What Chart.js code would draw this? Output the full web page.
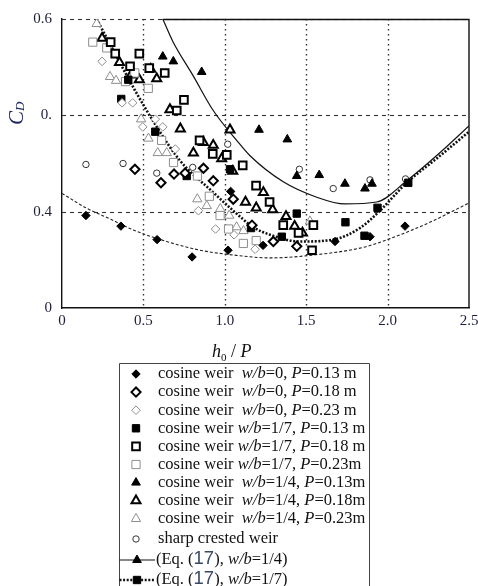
<!DOCTYPE html>
<html>
<head>
<meta charset="utf-8">
<title>Discharge coefficient of cosine weirs</title>
<script src="https://cdn.jsdelivr.net/npm/chart.js@4/dist/chart.umd.min.js"></script>
<style>
  html, body { margin: 0; padding: 0; background: #fff; }
  canvas { display: block; }
</style>
</head>
<body>
<canvas id="cdChart" width="478" height="586"></canvas>
<script>
// Measured C_D against h0/P, pairs of [h0/P, C_D]
const wb0P13 = [[0.147,0.396],[0.362,0.385],[0.584,0.371],[0.799,0.353],[1.020,0.360],[1.036,0.421],[1.235,0.365],[1.677,0.369],[1.892,0.374],[2.107,0.385]];
const wb0P18 = [[0.448,0.444],[0.608,0.430],[0.688,0.439],[0.756,0.440],[0.869,0.445],[0.929,0.432],[1.052,0.413],[1.167,0.386],[1.298,0.369],[1.442,0.364]];
const wb0P23 = [[0.246,0.556],[0.369,0.513],[0.434,0.513],[0.496,0.488],[0.573,0.496],[0.619,0.488],[0.696,0.465],[0.838,0.401],[0.943,0.382],[1.057,0.376],[1.186,0.361]];
const wb7P13 = [[0.364,0.517],[0.407,0.537],[0.573,0.483],[0.766,0.437],[1.032,0.444],[1.161,0.383],[1.350,0.374],[1.442,0.398],[1.741,0.389],[1.858,0.375],[1.938,0.404],[2.127,0.430]];
const wb7P18 = [[0.299,0.576],[0.327,0.564],[0.418,0.551],[0.475,0.564],[0.536,0.549],[0.631,0.544],[0.749,0.516],[0.705,0.505],[0.845,0.474],[0.926,0.460],[1.012,0.459],[1.110,0.448],[1.192,0.427],[1.275,0.410],[1.359,0.386],[1.453,0.378],[1.544,0.386],[1.536,0.360]];
const wb7P23 = [[0.189,0.576],[0.275,0.570],[0.390,0.535],[0.447,0.544],[0.530,0.528],[0.612,0.474],[0.685,0.451],[0.832,0.437],[0.905,0.416],[0.971,0.396],[1.023,0.382],[1.114,0.367],[1.193,0.370]];
const wb4P13 = [[0.619,0.561],[0.684,0.556],[0.858,0.545],[1.210,0.485],[1.384,0.475],[1.442,0.437],[1.580,0.438],[1.738,0.429],[1.861,0.424],[1.904,0.429]];
const wb4P18 = [[0.246,0.580],[0.353,0.555],[0.424,0.542],[0.475,0.537],[0.545,0.548],[0.582,0.538],[0.663,0.506],[0.727,0.486],[0.807,0.461],[0.868,0.472],[0.929,0.469],[0.981,0.455],[1.032,0.485],[1.049,0.442],[1.127,0.410],[1.193,0.404],[1.237,0.420],[1.294,0.402],[1.376,0.395],[1.429,0.385],[1.477,0.378]];
const wb4P23 = [[0.213,0.595],[0.295,0.540],[0.332,0.536],[0.486,0.496],[0.531,0.476],[0.588,0.461],[0.643,0.461],[0.831,0.413],[0.889,0.406],[0.972,0.403],[1.027,0.396],[1.072,0.384],[1.115,0.380],[1.523,0.390]];
const sharpCrested = [[0.147,0.449],[0.375,0.450],[0.582,0.440],[0.803,0.446],[1.018,0.470],[1.458,0.444],[1.666,0.424],[1.892,0.433],[2.110,0.434]];

// Eq. (17) curves
const eqQuarter = [[0.619,0.600],[0.680,0.577],[0.806,0.541],[0.929,0.505],[1.073,0.474],[1.155,0.458],[1.359,0.431],[1.565,0.415],[1.738,0.408],[1.933,0.410],[2.117,0.432],[2.300,0.458],[2.500,0.489]];
const eqSeventh = [[0.213,0.600],[0.326,0.564],[0.438,0.529],[0.582,0.488],[0.725,0.453],[0.929,0.420],[1.052,0.401],[1.175,0.384],[1.278,0.376],[1.462,0.369],[1.666,0.371],[1.830,0.383],[1.953,0.401],[2.117,0.430],[2.300,0.455],[2.500,0.483]];
const eqZero = [[0.000,0.419],[0.147,0.404],[0.300,0.392],[0.438,0.381],[0.643,0.369],[0.848,0.360],[1.052,0.355],[1.280,0.352],[1.544,0.355],[1.851,0.363],[2.015,0.372],[2.260,0.389],[2.500,0.409]];

const xTickLabels = ['0', '0.5', '1.0', '1.5', '2.0', '2.5'];
const yTickLabels = ['0', '0.4', '0.', '0.6'];
const xGrid = [0.5, 1.0, 1.5, 2.0];
const yGrid = [0.4, 0.5, 0.6];

const legendLabels = [
  'cosine weir  *w/b*=0, *P*=0.13 m',
  'cosine weir  *w/b*=0, *P*=0.18 m',
  'cosine weir  *w/b*=0, *P*=0.23 m',
  'cosine weir *w/b*=1/7, *P*=0.13 m',
  'cosine weir *w/b*=1/7, *P*=0.18 m',
  'cosine weir *w/b*=1/7, *P*=0.23m',
  'cosine weir  *w/b*=1/4, *P*=0.13m',
  'cosine weir  *w/b*=1/4, *P*=0.18m',
  'cosine weir  *w/b*=1/4, *P*=0.23m',
  'sharp crested weir',
  '(Eq. (|17|), *w/b*=1/4)',
  '(Eq. (|17|), *w/b*=1/7)'
];

const SERIF = "'Liberation Serif', 'Times New Roman', serif";
const GRAY = '#8e8e8e';

const toXY = arr => arr.map(([x, y]) => ({ x, y }));

function marks(data, style, radius, fill, stroke, width) {
  return {
    type: 'scatter', data: toXY(data), order: 0,
    pointStyle: style, pointRadius: radius, pointHoverRadius: radius,
    pointBackgroundColor: fill, pointBorderColor: stroke, pointBorderWidth: width
  };
}

function curve(data, width, dash, color) {
  return {
    type: 'line', data: toXY(data), order: 1,
    borderColor: color, borderWidth: width, borderDash: dash,
    pointRadius: 0, fill: false, cubicInterpolationMode: 'monotone'
  };
}

const markSets = [
  marks(wb0P13, 'rectRot', 4.2, '#000', '#000', 1),
  marks(wb0P18, 'rectRot', 4.6, '#fff', '#000', 2),
  marks(wb0P23, 'rectRot', 4.3, '#fff', GRAY, 1),
  marks(wb7P13, 'rect', 5.2, '#000', '#000', 1),
  marks(wb7P18, 'rect', 5.4, '#fff', '#000', 2),
  marks(wb7P23, 'rect', 5.8, '#fff', GRAY, 1),
  marks(wb4P13, 'triangle', 5.0, '#000', '#000', 1),
  marks(wb4P18, 'triangle', 5.2, '#fff', '#000', 2),
  marks(wb4P23, 'triangle', 5.4, '#fff', GRAY, 1),
  marks(sharpCrested, 'circle', 3.2, '#fff', '#333', 1)
];

const curveSets = [
  curve(eqQuarter, 1.2, [], '#111'),
  curve(eqSeventh, 2.6, [2, 1.6], '#111'),
  curve(eqZero, 1.1, [3, 2], '#222')
];

// grid, frame, axis titles and legend drawn by hand
const decorations = {
  id: 'decorations',
  beforeDatasetsDraw(chart) {
    const { ctx, chartArea: a, scales: { x, y } } = chart;
    ctx.save();
    ctx.strokeStyle = '#333';
    ctx.lineWidth = 1.4;
    ctx.setLineDash([1.5, 3.5]);
    xGrid.forEach(v => {
      const px = Math.round(x.getPixelForValue(v)) + 0.5;
      ctx.beginPath(); ctx.moveTo(px, a.top); ctx.lineTo(px, a.bottom); ctx.stroke();
    });
    ctx.lineWidth = 1.1;
    ctx.setLineDash([4, 4]);
    yGrid.forEach(v => {
      const py = Math.round(y.getPixelForValue(v)) + 0.5;
      ctx.beginPath(); ctx.moveTo(a.left, py); ctx.lineTo(a.right, py); ctx.stroke();
    });
    ctx.setLineDash([]);
    ctx.strokeStyle = '#111';
    ctx.lineWidth = 1.4;
    const top = Math.round(y.getPixelForValue(0.6)) + 0.5;
    ctx.beginPath();
    ctx.moveTo(x.getPixelForValue(eqQuarter[0][0]), top);
    ctx.lineTo(a.right, top);
    ctx.lineTo(a.right, a.bottom);
    ctx.stroke();
    ctx.restore();
  },
  afterDraw(chart) {
    const { ctx } = chart;
    ctx.save();

    // y title C_D
    ctx.fillStyle = '#1b2460';
    ctx.translate(17, 117);
    ctx.rotate(-Math.PI / 2);
    ctx.textBaseline = 'middle';
    ctx.font = 'italic 21px ' + SERIF;
    ctx.fillText('C', -8, 0);
    const cw = ctx.measureText('C').width;
    ctx.font = 'italic 13px ' + SERIF;
    ctx.fillText('D', -8 + cw, 4);
    ctx.setTransform(1, 0, 0, 1, 0, 0);

    // x title h0 / P
    ctx.fillStyle = '#111';
    ctx.textBaseline = 'alphabetic';
    let tx = 212;
    const base = 357;
    ctx.font = 'italic 18px ' + SERIF;
    ctx.fillText('h', tx, base); tx += ctx.measureText('h').width;
    ctx.font = '11px ' + SERIF;
    ctx.fillText('0', tx, base + 4); tx += ctx.measureText('0').width;
    ctx.font = '18px ' + SERIF;
    ctx.fillText(' / ', tx, base); tx += ctx.measureText(' / ').width;
    ctx.font = 'italic 18px ' + SERIF;
    ctx.fillText('P', tx, base);

    // legend box
    const boxL = 119.5, boxR = 369.5, boxT = 363.5;
    ctx.strokeStyle = '#444';
    ctx.lineWidth = 1;
    ctx.beginPath();
    ctx.moveTo(boxL, 600); ctx.lineTo(boxL, boxT); ctx.lineTo(boxR, boxT); ctx.lineTo(boxR, 600);
    ctx.stroke();

    const rowY = i => i < 9 ? 374 + 18.1 * i : [539, 560, 580][i - 9];
    const drawMark = (ds, cx, cy) => {
      ctx.fillStyle = ds.pointBackgroundColor;
      ctx.strokeStyle = ds.pointBorderColor;
      ctx.lineWidth = ds.pointBorderWidth;
      Chart.helpers.drawPoint(ctx, { pointStyle: ds.pointStyle, radius: ds.pointRadius, borderWidth: ds.pointBorderWidth, rotation: 0 }, cx, cy);
    };

    legendLabels.forEach((label, i) => {
      const cy = rowY(i);
      if (i < markSets.length) {
        drawMark(markSets[i], 136, cy);
      } else {
        const ln = curveSets[i - markSets.length];
        ctx.save();
        ctx.strokeStyle = ln.borderColor;
        ctx.lineWidth = ln.borderWidth;
        ctx.setLineDash(ln.borderDash);
        ctx.beginPath(); ctx.moveTo(boxL, cy); ctx.lineTo(155, cy); ctx.stroke();
        ctx.restore();
        drawMark(markSets[i === 10 ? 6 : 3], 137, cy);
      }
      drawRich(ctx, label, i < markSets.length ? 158 : 156, cy, 16.5);
    });
    ctx.restore();
  }
};

// '*' toggles italic, '|' toggles the sans-serif equation number
function drawRich(ctx, str, x, y, size) {
  let italic = false, sans = false;
  ctx.textBaseline = 'middle';
  str.split(/([*|])/).forEach(tok => {
    if (tok === '*') { italic = !italic; return; }
    if (tok === '|') { sans = !sans; return; }
    if (!tok) return;
    if (sans) {
      ctx.font = (size + 2) + "px 'Liberation Sans', Arial, sans-serif";
      ctx.fillStyle = '#3b4866';
      ctx.fillText(tok, x, y - 1);
    } else {
      ctx.font = (italic ? 'italic ' : '') + size + 'px ' + SERIF;
      ctx.fillStyle = '#111';
      ctx.fillText(tok, x, y);
    }
    x += ctx.measureText(tok).width;
  });
}

new Chart(document.getElementById('cdChart'), {
  data: { datasets: [...markSets, ...curveSets] },
  options: {
    responsive: false,
    animation: false,
    devicePixelRatio: 1,
    layout: { padding: { left: 0, right: 9, top: 18, bottom: 248 } },
    plugins: { legend: { display: false }, tooltip: { enabled: false } },
    scales: {
      x: {
        type: 'linear', min: 0, max: 2.5,
        // keep the plot edge at the frame; the last tick label may run off the page
        afterFit: s => { s.height = 30; s.paddingLeft = 0; s.paddingRight = 0; },
        grid: { display: false, drawTicks: false },
        border: { display: true, color: '#111', width: 1.4 },
        ticks: {
          stepSize: 0.5, padding: 4, color: '#1e1e3c', maxRotation: 0,
          font: { family: SERIF, size: 15 },
          callback: v => xTickLabels[Math.round(v / 0.5)]
        }
      },
      y: {
        type: 'linear', min: 0.3, max: 0.6,
        afterFit: s => { s.width = 62; },
        grid: { display: false, drawTicks: false },
        border: { display: true, color: '#111', width: 1.4 },
        ticks: {
          stepSize: 0.1, padding: 10, color: '#1e1e3c',
          font: { family: SERIF, size: 15 },
          callback: v => yTickLabels[Math.round((v - 0.3) / 0.1)]
        }
      }
    }
  },
  plugins: [decorations]
});
</script>
</body>
</html>
